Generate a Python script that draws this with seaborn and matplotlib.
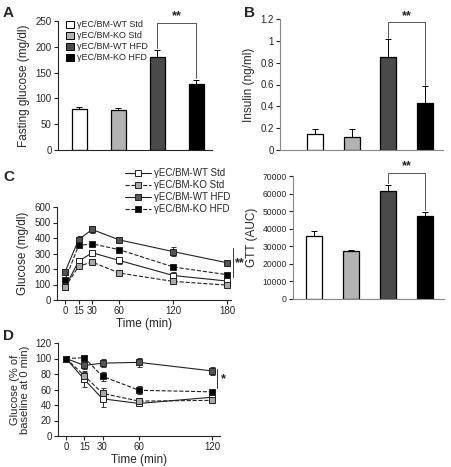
import matplotlib
matplotlib.use("Agg")
import matplotlib.pyplot as plt
import seaborn as sns
import numpy as np
import pandas as pd
from matplotlib.patches import Patch
from matplotlib.lines import Line2D
from matplotlib.ticker import FuncFormatter

# ---------------- data ----------------
groups = ["γEC/BM-WT Std", "γEC/BM-KO Std", "γEC/BM-WT HFD", "γEC/BM-KO HFD"]
bar_colors = ["#ffffff", "#b3b3b3", "#4a4a4a", "#000000"]

fasting_glucose = [80, 77, 181, 128]
fasting_glucose_err = [4, 5, 12, 8]

insulin = [0.15, 0.12, 0.85, 0.43]
insulin_err = [0.04, 0.07, 0.17, 0.16]

gtt_auc = [36000, 27600, 61300, 47200]
gtt_auc_err = [2800, 500, 3800, 2400]

gtt_time = [0, 15, 30, 60, 120, 180]
gtt_wt_std = [84, 250, 305, 255, 158, 122]
gtt_ko_std = [82, 218, 245, 174, 120, 96]
gtt_wt_hfd = [182, 390, 455, 388, 312, 240]
gtt_ko_hfd = [130, 352, 362, 325, 213, 163]
gtt_wt_std_err = [8, 20, 12, 25, 25, 15]
gtt_ko_std_err = [8, 14, 22, 22, 10, 12]
gtt_wt_hfd_err = [8, 20, 25, 15, 30, 8]
gtt_ko_hfd_err = [8, 8, 8, 8, 8, 8]

itt_time = [0, 15, 30, 60, 120]
itt_wt_std = [100, 73, 48, 42, 50]
itt_ko_std = [100, 78, 55, 45, 46]
itt_wt_hfd = [100, 91, 94, 95, 84]
itt_ko_hfd = [100, 101, 77, 59, 57]
itt_wt_std_err = [1, 10, 10, 3, 4]
itt_ko_std_err = [1, 6, 7, 4, 4]
itt_wt_hfd_err = [1, 5, 5, 6, 5]
itt_ko_hfd_err = [1, 4, 6, 5, 4]

# ---------------- style ----------------
sns.set_style("ticks")
plt.rcParams["font.family"] = ["Liberation Sans", "DejaVu Sans"]
plt.rcParams["axes.linewidth"] = 0.8
plt.rcParams["xtick.major.width"] = 0.8
plt.rcParams["ytick.major.width"] = 0.8
plt.rcParams["xtick.major.size"] = 3
plt.rcParams["ytick.major.size"] = 3
plt.rcParams["xtick.direction"] = "out"
plt.rcParams["ytick.direction"] = "out"

W, H = 451, 467
fig = plt.figure(figsize=(W / 100, H / 100), dpi=100)


def ax_px(l, t, r, b):
    return fig.add_axes([l / W, 1 - b / H, (r - l) / W, (b - t) / H])


TICK = 7
LAB = 8.5


def bar_panel(ax, vals, errs, width, xlim, ylim, yticks, ylabel, fmt=None,
              frame_grey=False, tick=TICK):
    df = pd.DataFrame({"g": groups, "v": vals})
    sns.barplot(data=df, x="g", y="v", hue="g", order=groups, hue_order=groups,
                palette=bar_colors, width=width, edgecolor="black", linewidth=0.9,
                legend=False, ax=ax, errorbar=None, saturation=1)
    ax.errorbar(range(4), vals, yerr=[np.zeros(4), errs], fmt="none",
                ecolor="black", elinewidth=0.7, capsize=2, capthick=0.7, zorder=1)
    ax.set_xlim(*xlim)
    ax.set_ylim(*ylim)
    ax.set_yticks(yticks)
    if fmt is not None:
        ax.yaxis.set_major_formatter(FuncFormatter(fmt))
    ax.set_xticks([])
    ax.set_xlabel("")
    ax.set_ylabel(ylabel, fontsize=LAB)
    ax.tick_params(axis="y", labelsize=tick, pad=1.5)
    sns.despine(ax=ax)
    if frame_grey:
        ax.spines["bottom"].set_color("#888888")
        ax.spines["left"].set_color("#888888")


def bracket(ax, x0, x1, ytop, y0, y1, text, ty, fs=9):
    ax.plot([x0, x0, x1, x1], [y0, ytop, ytop, y1], color="#555555", lw=0.7, clip_on=False)
    ax.text((x0 + x1) / 2, ty, text, ha="center", va="center", fontsize=fs,
            fontweight="bold", clip_on=False)


# ---------------- Panel A ----------------
axA = ax_px(58, 21, 212, 150)
bar_panel(axA, fasting_glucose, fasting_glucose_err, 0.4, (-0.55, 3.4), (0, 250),
          [0, 50, 100, 150, 200, 250], "Fasting glucose (mg/dl)")
bracket(axA, 2, 3, 247, 198, 140, "**", 259)
handles = [Patch(facecolor=c, edgecolor="black", linewidth=0.7) for c in bar_colors]
axA.legend(handles, groups, loc="upper left", bbox_to_anchor=(0.02, 1.04), frameon=False,
           fontsize=6.5, handlelength=0.9, handleheight=0.8, handletextpad=0.4,
           labelspacing=0.22, borderaxespad=0.1)

# ---------------- Panel B ----------------
axB = ax_px(280, 19, 443, 150)
bar_panel(axB, insulin, insulin_err, 0.44, (-0.96, 3.5), (0, 1.2),
          [0, 0.2, 0.4, 0.6, 0.8, 1.0, 1.2], "Insulin (ng/ml)",
          fmt=lambda v, p: f"{v:g}", frame_grey=True)
bracket(axB, 2, 3, 1.17, 1.03, 0.6, "**", 1.23)

# ---------------- Panel C right ----------------
axCR = ax_px(293, 176, 444, 299)
bar_panel(axCR, gtt_auc, gtt_auc_err, 0.43, (-0.56, 3.5), (0, 70000),
          list(range(0, 70001, 10000)), "GTT (AUC)", frame_grey=True, tick=6.2)
axCR.yaxis.set_label_coords(-0.235, 0.5)
bracket(axCR, 2, 3, 71700, 66000, 50500, "**", 75500)

# ---------------- line panels ----------------
line_styles = [
    ("#ffffff", "-"),
    ("#a8a8a8", "--"),
    ("#555555", "-"),
    ("#000000", "--"),
]


def line_panel(ax, times, series, errs):
    for name, vals, err, (fc, ls) in zip(groups, series, errs, line_styles):
        df = pd.DataFrame({"t": times, "v": vals})
        ax.errorbar(times, vals, yerr=err, fmt="none", ecolor="#333333",
                    elinewidth=0.7, capsize=1.8, capthick=0.7, zorder=2)
        sns.lineplot(data=df, x="t", y="v", ax=ax, color="#222222", linewidth=0.8,
                     linestyle=ls, marker="s", markersize=4.2, markerfacecolor=fc,
                     markeredgecolor="#222222", markeredgewidth=0.7, zorder=3,
                     errorbar=None)
    ax.set_xlabel("Time (min)", fontsize=LAB, labelpad=1)
    ax.tick_params(labelsize=TICK, pad=1.5)
    sns.despine(ax=ax)


# ---------------- Panel C left ----------------
axC = ax_px(57, 207, 231, 300)
line_panel(axC, gtt_time, [gtt_wt_std, gtt_ko_std, gtt_wt_hfd, gtt_ko_hfd],
           [gtt_wt_std_err, gtt_ko_std_err, gtt_wt_hfd_err, gtt_ko_hfd_err])
axC.set_xlim(-9, 184)
axC.set_ylim(0, 600)
axC.set_xticks(gtt_time)
axC.set_yticks([0, 100, 200, 300, 400, 500, 600])
axC.set_ylabel("Glucose (mg/dl)", fontsize=LAB)
axC.plot([186, 186], [148, 335], color="#333333", lw=0.7, clip_on=False)
axC.text(188.5, 240, "**", fontsize=9, fontweight="bold", va="center", ha="left", clip_on=False)
leg_handles = [Line2D([0], [0], color="#222222", lw=0.8, ls=ls, marker="s", markersize=4.2,
                      markerfacecolor=fc, markeredgecolor="#222222", markeredgewidth=0.7)
               for fc, ls in line_styles]
axC.legend(leg_handles, groups, loc="lower left", bbox_to_anchor=(0.37, 0.88), frameon=False,
           fontsize=7, handlelength=2.6, handletextpad=0.4, labelspacing=0.2,
           borderaxespad=0.0)

# ---------------- Panel D ----------------
axD = ax_px(58, 343, 220, 436)
line_panel(axD, itt_time, [itt_wt_std, itt_ko_std, itt_wt_hfd, itt_ko_hfd],
           [itt_wt_std_err, itt_ko_std_err, itt_wt_hfd_err, itt_ko_hfd_err])
axD.set_xlim(-6.6, 126.6)
axD.set_ylim(0, 120)
axD.set_xticks(itt_time)
axD.set_yticks([0, 20, 40, 60, 80, 100, 120])
axD.set_ylabel("Glucose (% of\nbaseline at 0 min)", fontsize=8, linespacing=1.0)
axD.plot([124.5, 124.5], [62, 86], color="#333333", lw=0.7, clip_on=False)
axD.text(127.5, 73, "*", fontsize=9, fontweight="bold", va="center", ha="left", clip_on=False)

# ---------------- panel letters ----------------
for lbl, x, y in [("A", 3, 6), ("B", 244, 6), ("C", 3, 170), ("D", 3, 329)]:
    fig.text(x / W, 1 - y / H, lbl, fontsize=11, fontweight="bold", va="top", ha="left")

fig.savefig("out.png", dpi=100)
